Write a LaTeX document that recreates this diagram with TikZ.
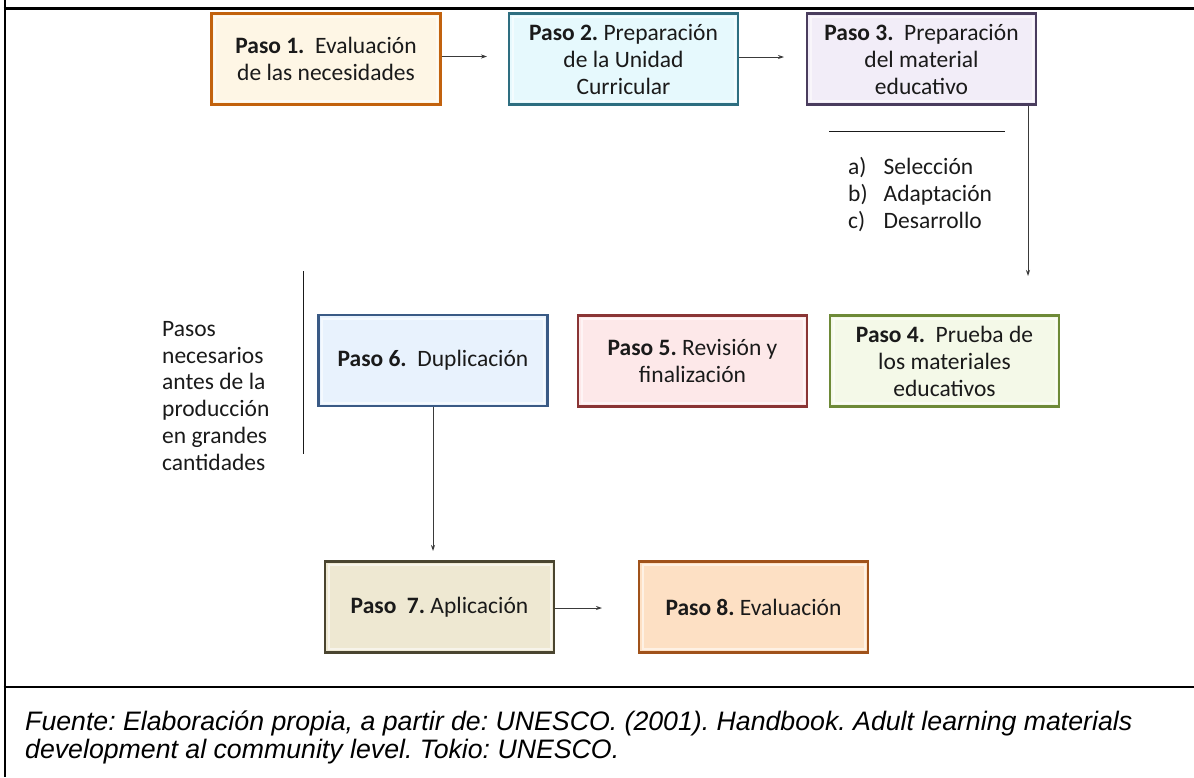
\documentclass[tikz,border=0pt]{standalone}
\usepackage{fontspec}
\setmainfont{Carlito}
\newfontfamily\capfont{Liberation Sans}
\usetikzlibrary{arrows.meta,calc}
\definecolor{txt}{HTML}{1A1A1A}
\definecolor{bOne}{HTML}{C2620E}\definecolor{fOne}{HTML}{FEF6E5}
\definecolor{bTwo}{HTML}{2E6E80}\definecolor{fTwo}{HTML}{E6F9FD}
\definecolor{bThree}{HTML}{4A3D5E}\definecolor{fThree}{HTML}{F2EDF8}
\definecolor{bFour}{HTML}{6E8A38}\definecolor{fFour}{HTML}{F4F9E8}
\definecolor{bFive}{HTML}{8A3535}\definecolor{fFive}{HTML}{FDE8E9}
\definecolor{bSix}{HTML}{3A5A85}\definecolor{fSix}{HTML}{E8F2FD}
\definecolor{bSeven}{HTML}{4A4530}\definecolor{fSeven}{HTML}{EEE8D2}
\definecolor{bEight}{HTML}{A0521A}\definecolor{fEight}{HTML}{FDE0C4}
\definecolor{arr}{HTML}{3A3A3A}
\tikzset{
  stepbox/.style={rectangle, line width=2.4pt, minimum width=229pt, minimum height=91pt,
    align=center, font=\fontsize{23.5}{27}\selectfont, text=txt, inner sep=2pt,
    path picture={\draw[white, opacity=0.55, line width=2pt]
      ($(path picture bounding box.south west)+(3.5,-3.5)$) rectangle
      ($(path picture bounding box.north east)+(-3.5,3.5)$);}},
  conn/.style={draw=arr, line width=0.9pt, -{Stealth[length=6pt,width=4pt]}},
  frame/.style={line width=2.6pt, black}
}
\begin{document}
\frenchspacing
\begin{tikzpicture}[x=1pt,y=-1pt]
\useasboundingbox (0,0) rectangle (1194,777);
% frame
\draw[frame] (5,0) -- (5,777);
\draw[frame] (3.7,8.5) -- (1194,8.5);
\draw[frame] (3.7,687) -- (1194,687);
% boxes
\node[stepbox, draw=bOne, fill=fOne] (s1) at (326,59) {\textbf{Paso 1.}\ \ Evaluación\\de las necesidades};
\node[stepbox, draw=bTwo, fill=fTwo] (s2) at (623.5,59) {\textbf{Paso 2.} Preparación\\de la Unidad\\Curricular};
\node[stepbox, draw=bThree, fill=fThree] (s3) at (921.5,59) {\textbf{Paso 3.}\ \ Preparación\\del material\\educativo};
\node[stepbox, draw=bFour, fill=fFour] (s4) at (944.5,361) {\textbf{Paso 4.}\ \ Prueba de\\los materiales\\educativos};
\node[stepbox, draw=bFive, fill=fFive] (s5) at (692.5,361) {\textbf{Paso 5.} Revisión y\\finalización};
\node[stepbox, draw=bSix, fill=fSix] (s6) at (433,360.5) {\textbf{Paso 6.}\ \ Duplicación};
\node[stepbox, draw=bSeven, fill=fSeven] (s7) at (439.5,607) {\textbf{Paso\ \ 7.} Aplicación};
\node[stepbox, draw=bEight, fill=fEight] (s8) at (753.5,607) {\textbf{Paso 8.} Evaluación};
% free ends
\coordinate (e12) at (487,56.5);
\coordinate (e23) at (784,57);
\coordinate (e34) at (1028,276);
\coordinate (e67) at (433,551);
\coordinate (e78) at (602,608);
\draw[conn] (s1.east |- e12) -- (e12);
\draw[conn] (s2.east |- e23) -- (e23);
\draw[conn] (e34 |- s3.south) -- (e34);
\draw[conn] (s6.south) -- (e67);
\draw[conn] (s7.east |- e78) -- (e78);
% separator under box 3
\coordinate (l1) at (829,131);
\coordinate (l2) at (1005,131);
\draw[line width=1pt, txt] (l1) -- (l2);
\node[anchor=north west, inner sep=0pt, text=txt, font=\fontsize{23.5}{27.3}\selectfont] (list) at (848,155)
  {\begin{tabular}{@{}l@{\hspace{16pt}}l@{}}a) & Selección\\ b) & Adaptación\\ c) & Desarrollo\end{tabular}};
% left note
\coordinate (v1) at (303,271);
\coordinate (v2) at (303,454);
\draw[line width=1pt, txt] (v1) -- (v2);
\node[anchor=north west, inner sep=0pt, align=left, text=txt, font=\fontsize{23.5}{26.8}\selectfont] (note) at (162,321)
  {Pasos\\necesarios\\antes de la\\producción\\en grandes\\cantidades};
% caption
\node[anchor=north west, inner sep=0pt, align=left, text=black, font=\capfont\itshape\fontsize{26.7}{28}\selectfont] (cap) at (25,711)
  {Fuente: Elaboración propia, a partir de: UNESCO. (2001). Handbook. Adult learning materials\\development al community level. Tokio: UNESCO.};
\end{tikzpicture}
\end{document}
